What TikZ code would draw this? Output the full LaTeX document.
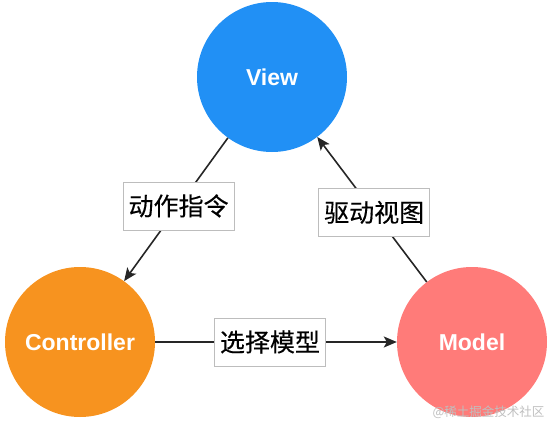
\documentclass[tikz,border=0pt]{standalone}
\usepackage{fontspec}
\usepackage{xcolor}
\usepackage{tikz}
\usetikzlibrary{arrows.meta}
\setmainfont{Liberation Sans}
\newfontfamily\cjk[FakeBold=0.3]{Noto Sans CJK SC}
\newfontfamily\cjkmark{Noto Sans CJK SC}
\definecolor{viewblue}{HTML}{2190F5}
\definecolor{ctrlorange}{HTML}{F7931F}
\definecolor{modelred}{HTML}{FF7B79}
\definecolor{tagline}{HTML}{BDBDBD}

\begin{document}
\begin{tikzpicture}[
    x=1pt, y=-1pt,
    mvc/.style={circle, inner sep=0pt, minimum size=150pt, text=white, font=\fontsize{23}{26}\selectfont\bfseries},
    tag/.style={draw=tagline, fill=white, line width=0.8pt, minimum width=111pt, minimum height=48pt, inner sep=0pt, font=\cjk\fontsize{25}{28}\selectfont},
    arrow/.style={-{Stealth[length=13pt, width=11pt, inset=3pt]}, line width=1.6pt, draw=black!85}
]
    \useasboundingbox (0,0) rectangle (552,423);

    \node[mvc, fill=viewblue] (view) at (272,77) {View};
    \node[mvc, fill=ctrlorange] (ctrl) at (80,342) {Controller};
    \node[mvc, fill=modelred] (model) at (472,342) {Model};

    \draw[arrow] (view) -- node[tag, pos=0.475] (cmd) {动作指令} (ctrl);
    \draw[arrow] (model) -- node[tag, pos=0.48] (drive) {驱动视图} (view);
    \draw[arrow] (ctrl) -- node[tag, pos=0.475] (pick) {选择模型} (model);

    % watermark
    \node[anchor=east, text=black!25, font=\cjkmark\fontsize{12.5}{14}\selectfont] (mark) at (548,412) {@稀土掘金技术社区};
\end{tikzpicture}
\end{document}
